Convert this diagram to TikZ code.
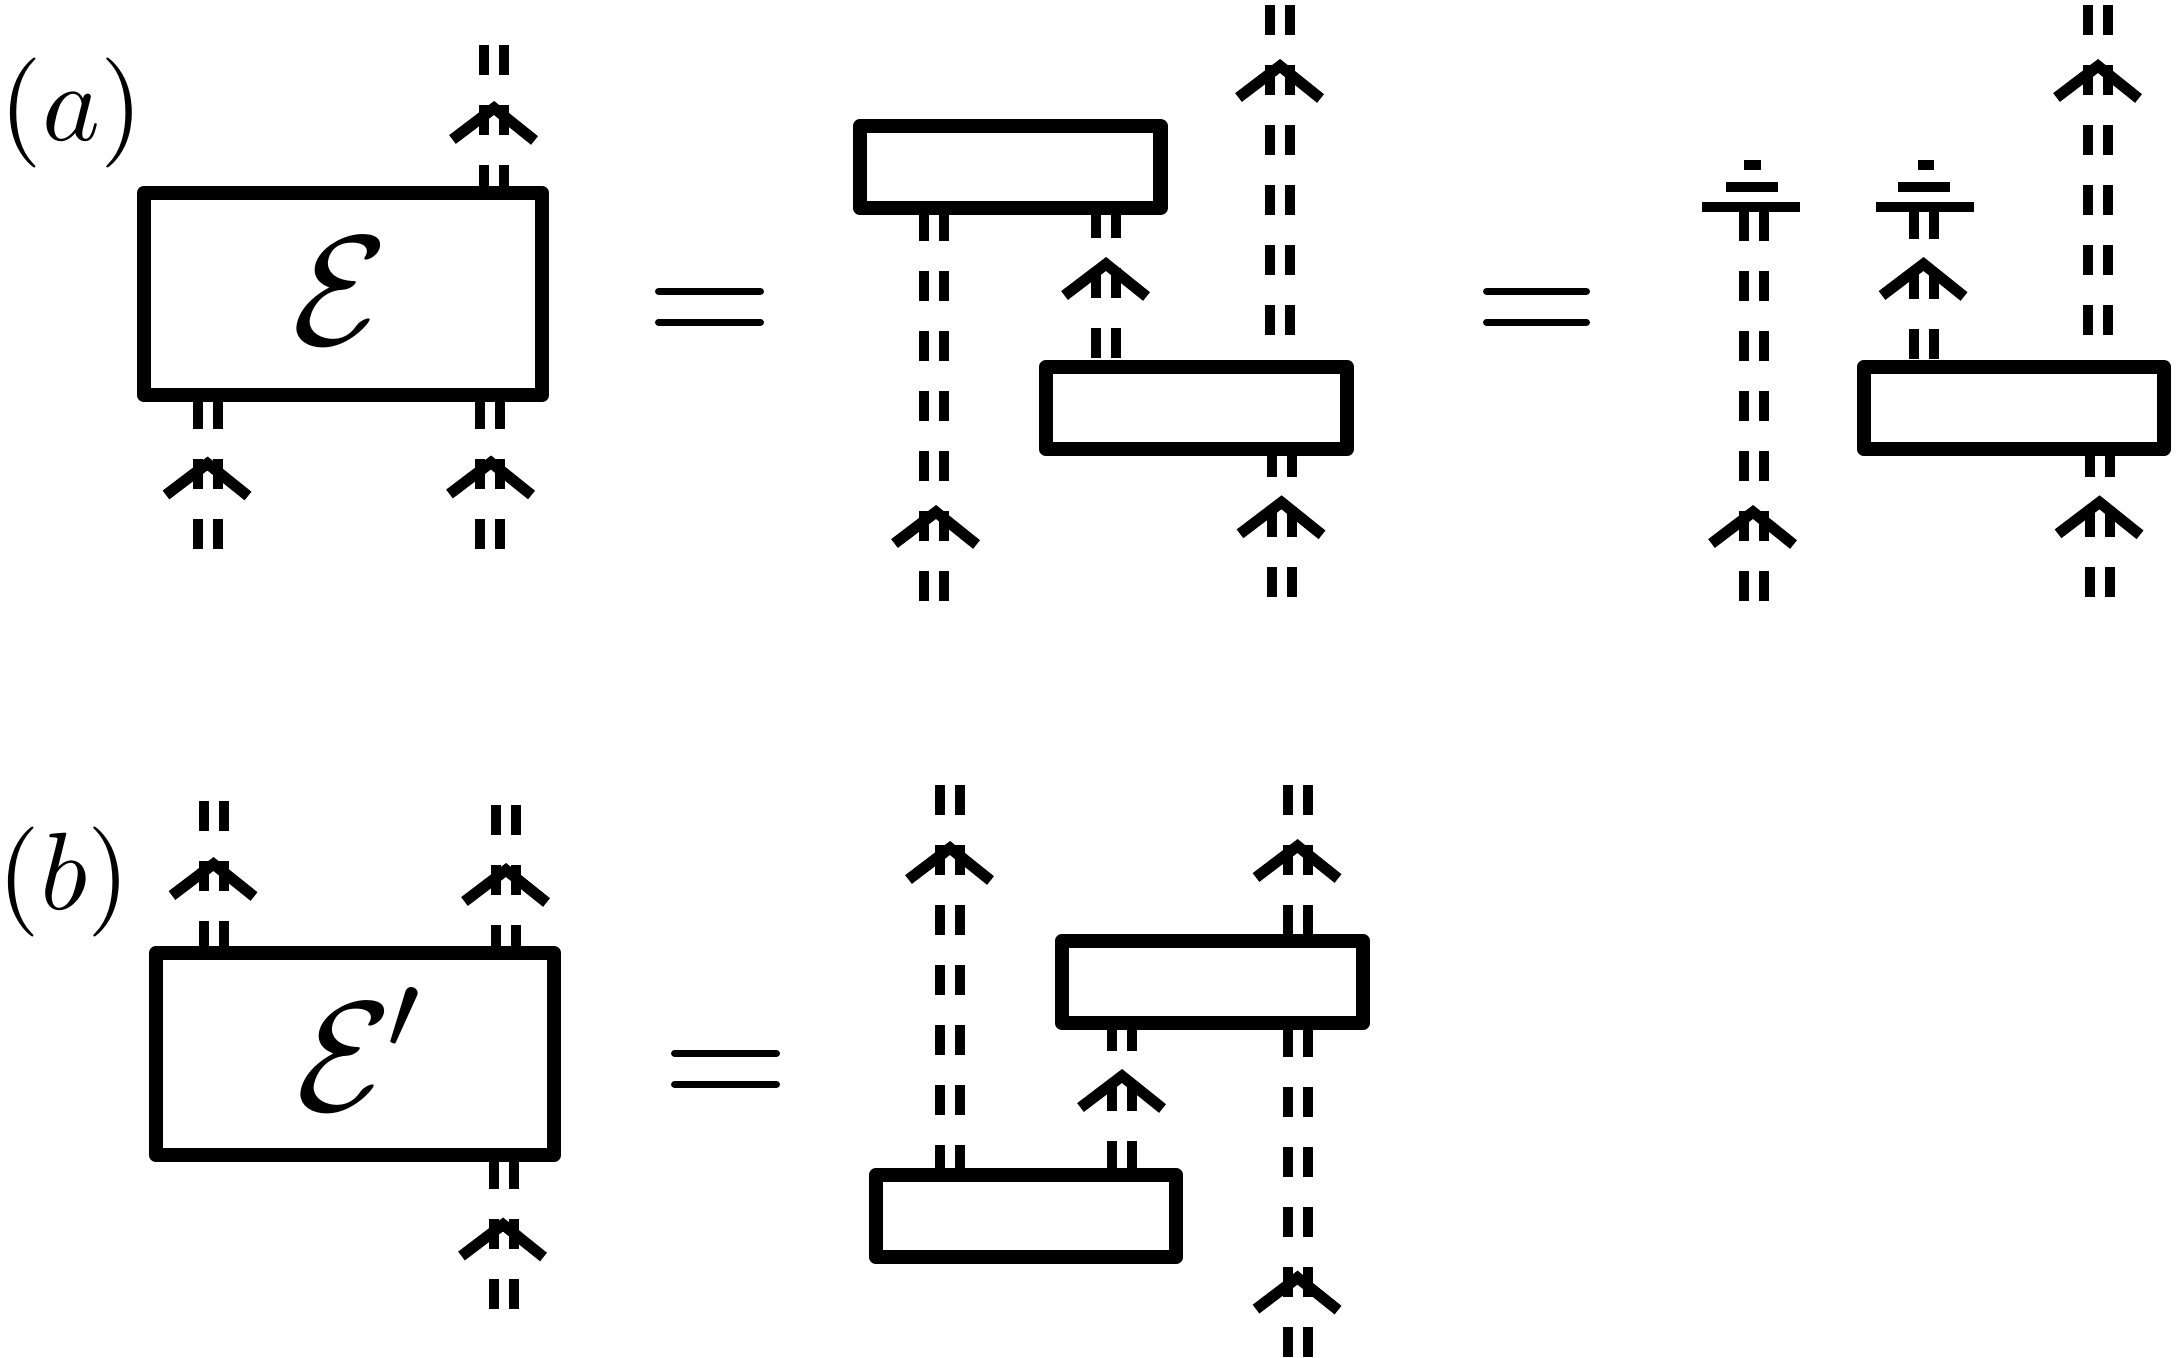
\documentclass[tikz,border=0pt]{standalone}
\usetikzlibrary{calc}
\tikzset{
  x=0.5pt,y=-0.5pt,
  boxnode/.style={draw=black,line width=7.25pt,line join=round,rectangle,inner sep=0pt,outer sep=0pt,minimum height=41pt,minimum width=150.5pt},
  wirestyle/.style={draw=black,line width=5pt,dash pattern=on 15pt off 15pt,line cap=butt},
  chevron/.style={draw=black,line width=5.5pt,line join=miter,line cap=butt},
  eqline/.style={draw=black,line width=3.5pt,line cap=round},
  gndbar/.style={draw=black,line width=5pt,line cap=butt},
  lab/.style={inner sep=0pt,outer sep=0pt,text=black}
}
\newcommand{\dwire}[3][0pt]{%
  \draw[wirestyle,dash phase=#1] ([xshift=-5pt]#2) -- ([xshift=-5pt]#3);
  \draw[wirestyle,dash phase=#1] ([xshift=5pt]#2) -- ([xshift=5pt]#3);}
\newcommand{\chev}[1]{%
  \draw[chevron] ([shift={(-41.5,38.5)}]#1) -- ([shift={(0,7)}]#1) -- ([shift={(40.5,39.5)}]#1);}
\begin{document}
\begin{tikzpicture}
\useasboundingbox (0,0) rectangle (2178,1358);
% ---------- boxes
\node[boxnode,minimum width=199pt,minimum height=101pt] (E) at (343,294) {};
\node[boxnode,minimum width=150.25pt] (A) at (1010.25,167) {};
\node[boxnode,minimum width=150.5pt] (B) at (1196.5,408) {};
\node[boxnode,minimum width=150pt] (C) at (2014,408) {};
\node[boxnode,minimum width=199pt,minimum height=101pt] (Ep) at (355,1054) {};
\node[boxnode,minimum width=150.5pt] (D) at (1212.5,982) {};
\node[boxnode,minimum width=150pt] (F) at (1026,1216) {};
% ---------- labels
\node[lab,scale=5.5] (la) at (71.5,113) {$(a)$};
\node[lab,scale=5.5] (lb) at (64,881.5) {$(b)$};
\node[lab,scale=7.8] (le) at (341,291.5) {$\mathcal{E}$};
\node[lab,scale=7.8,anchor=base west] (lep) at (296,1110) {$\mathcal{E}^{\mkern-1mu\raisebox{0.3pt}{$\scriptstyle\prime$}}$};
% ---------- equals signs
\coordinate (e1a) at (658.5,291.3); \coordinate (e1b) at (760.5,291.3);
\coordinate (e2a) at (658.5,322.3); \coordinate (e2b) at (760.5,322.3);
\coordinate (e3a) at (1486.5,291.3); \coordinate (e3b) at (1586.5,291.3);
\coordinate (e4a) at (1486.5,322.3); \coordinate (e4b) at (1586.5,322.3);
\coordinate (e5a) at (674.5,1053.3); \coordinate (e5b) at (776.5,1053.3);
\coordinate (e6a) at (674.5,1084.3); \coordinate (e6b) at (776.5,1084.3);
\foreach \n in {1,...,6} {\draw[eqline] (e\n a) -- (e\n b);}
% ---------- panel a, left
\coordinate (w1) at (494,45); \path (E.north -| w1) coordinate (w1e);
\dwire{w1}{w1e}
\coordinate (w2) at (208,549); \path (E.south -| w2) coordinate (w2e);
\dwire{w2}{w2e}
\coordinate (w3) at (490,549); \path (E.south -| w3) coordinate (w3e);
\dwire{w3}{w3e}
\coordinate (c1) at (494,101); \chev{c1}
\coordinate (c2) at (207.5,456.5); \chev{c2}
\coordinate (c3) at (491,455.5); \chev{c3}
% ---------- panel a, middle
\coordinate (w4) at (934,601); \path (A.south -| w4) coordinate (w4e);
\dwire{w4}{w4e}
\coordinate (wx) at (1106,0); \path (A.south -| wx) coordinate (w5); \path (B.north -| wx) coordinate (w5e);
\dwire{w5}{w5e}
\coordinate (w6) at (1280,5); \coordinate (w6e) at (1280,335);
\dwire{w6}{w6e}
\coordinate (w7) at (1282,597); \path (B.south -| w7) coordinate (w7e);
\dwire{w7}{w7e}
\coordinate (c4) at (936,505); \chev{c4}
\coordinate (c5) at (1106,257); \chev{c5}
\coordinate (c6) at (1280,59); \chev{c6}
\coordinate (c7) at (1281.5,495.3); \chev{c7}
% ---------- panel a, right
\coordinate (g1) at (1754,207); \coordinate (w8) at (1754,601);
\dwire{w8}{g1}
\coordinate (g2) at (1924,209); \path (C.north -| g2) coordinate (w9e);
\dwire{g2}{w9e}
\coordinate (w10) at (2098,5); \coordinate (w10e) at (2098,335);
\dwire{w10}{w10e}
\coordinate (w11) at (2100,597); \path (C.south -| w11) coordinate (w11e);
\dwire{w11}{w11e}
\coordinate (c8) at (1753,505); \chev{c8}
\coordinate (c9) at (1923.5,257); \chev{c9}
\coordinate (c10) at (2098,59); \chev{c10}
\coordinate (c11) at (2099.5,495.3); \chev{c11}
% ground symbols
\coordinate (g1aa) at (1702,207); \coordinate (g1ab) at (1800,207);
\coordinate (g1ba) at (1726,187); \coordinate (g1bb) at (1777.5,187);
\coordinate (g1ca) at (1744,165); \coordinate (g1cb) at (1760.5,165);
\coordinate (g2aa) at (1876,207); \coordinate (g2ab) at (1974,207);
\coordinate (g2ba) at (1898,187); \coordinate (g2bb) at (1949.5,187);
\coordinate (g2ca) at (1918,165); \coordinate (g2cb) at (1934,165);
\foreach \n in {g1a,g1b,g1c,g2a,g2b,g2c} {\draw[gndbar] (\n a) -- (\n b);}
% ---------- panel b, left
\coordinate (w12) at (214,801); \path (Ep.north -| w12) coordinate (w12e);
\dwire{w12}{w12e}
\coordinate (w13) at (506,805); \path (Ep.north -| w13) coordinate (w13e);
\dwire{w13}{w13e}
\coordinate (w14) at (504,1309); \path (Ep.south -| w14) coordinate (w14e);
\dwire{w14}{w14e}
\coordinate (c12) at (213.5,857); \chev{c12}
\coordinate (c13) at (506,863); \chev{c13}
\coordinate (c14) at (503,1217.5); \chev{c14}
% ---------- panel b, right
\coordinate (w15) at (950,785); \path (F.north -| w15) coordinate (w15e);
\dwire{w15}{w15e}
\coordinate (wy) at (1122,0); \path (D.south -| wy) coordinate (w16); \path (F.north -| wy) coordinate (w16e);
\dwire[1pt]{w16}{w16e}
\coordinate (w17) at (1298,785); \path (D.north -| w17) coordinate (w17e);
\dwire{w17}{w17e}
\coordinate (w18) at (1298,1357); \path (D.south -| w18) coordinate (w18e);
\dwire{w18}{w18e}
\coordinate (c15) at (950,841); \chev{c15}
\coordinate (c16) at (1122,1069); \chev{c16}
\coordinate (c17) at (1297.5,839); \chev{c17}
\coordinate (c18) at (1297.5,1270.6); \chev{c18}
\end{tikzpicture}
\end{document}
